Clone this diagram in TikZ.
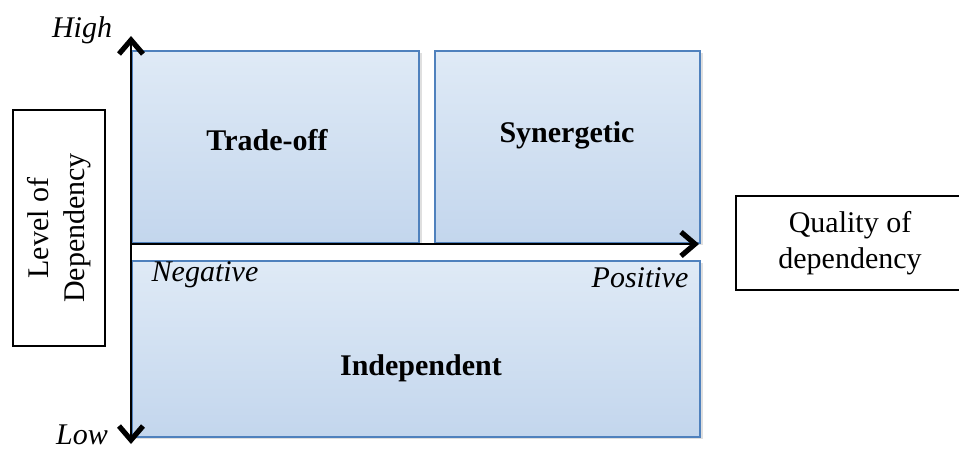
\documentclass[tikz,border=0pt]{standalone}
\usepackage{fontspec}
\setmainfont{Liberation Serif}
\usetikzlibrary{arrows.meta,shadows}

\definecolor{boxline}{HTML}{4F81BD}
\definecolor{boxtop}{HTML}{DFEAF6}
\definecolor{boxbottom}{HTML}{C3D6ED}

\begin{document}
\begin{tikzpicture}[x=0.5pt,y=0.5pt,
    every node/.style={font=\fontsize{15}{18}\selectfont},
    quad/.style={draw=boxline, line width=1.2pt, top color=boxtop,
        bottom color=boxbottom, inner sep=0pt,
        drop shadow={shadow xshift=1.2pt, shadow yshift=-1.2pt, opacity=0.25}},
    axislabel/.style={draw, line width=0.9pt, align=center, inner sep=0pt},
    axis/.style={line width=1pt,
        {Straight Barb[length=7pt,width=12pt,line width=2.6pt]}-{Straight Barb[length=7pt,width=12pt,line width=2.6pt]}},
    axisright/.style={line width=1pt, -{Straight Barb[length=7pt,width=12pt,line width=2.6pt]}}]

% Picture frame, same size as the reference
\useasboundingbox (0,0) rectangle (959,451);

% Three quadrant boxes
\node[quad, minimum width=287*0.5pt, minimum height=192*0.5pt, anchor=south west]
    (tradeoff) at (131,207) {};
\node[quad, minimum width=265*0.5pt, minimum height=192*0.5pt, anchor=south west]
    (synergetic) at (434,207) {};
\node[quad, minimum width=568*0.5pt, minimum height=176*0.5pt, anchor=south west]
    (independent) at (131,13) {};

% Box titles
\node[font=\fontsize{15}{18}\selectfont\bfseries] (tradeofftext) at (267,311) {Trade-off};
\node[font=\fontsize{15}{18}\selectfont\bfseries] (synergetictext) at (567,316) {Synergetic};
\node[font=\fontsize{15}{18}\selectfont\bfseries] (independenttext) at (421,83) {Independent};

% Axes
\coordinate (origin) at (131,207);
\coordinate (ytop) at (131,415);
\coordinate (ybottom) at (131,7);
\coordinate (xright) at (699,207);

\draw[axis] (ybottom) -- (ytop);
\draw[axisright] (origin) -- (xright);

% Axis end labels
\node[font=\fontsize{15}{18}\selectfont\itshape] (high) at (82,421) {High};
\node[font=\fontsize{15}{18}\selectfont\itshape] (low) at (82,16) {Low};
\node[font=\fontsize{15}{18}\selectfont\itshape] (negative) at (205,176) {Negative};
\node[font=\fontsize{15}{18}\selectfont\itshape] (positive) at (640,173) {Positive};

% Axis titles
\node[axislabel, minimum width=236*0.5pt, minimum height=92*0.5pt, rotate=90]
    (level) at (59,223) {Level of\\Dependency};
\node[axislabel, minimum width=228*0.5pt, minimum height=94*0.5pt]
    (quality) at (850,208) {Quality of\\dependency};

\end{tikzpicture}
\end{document}
